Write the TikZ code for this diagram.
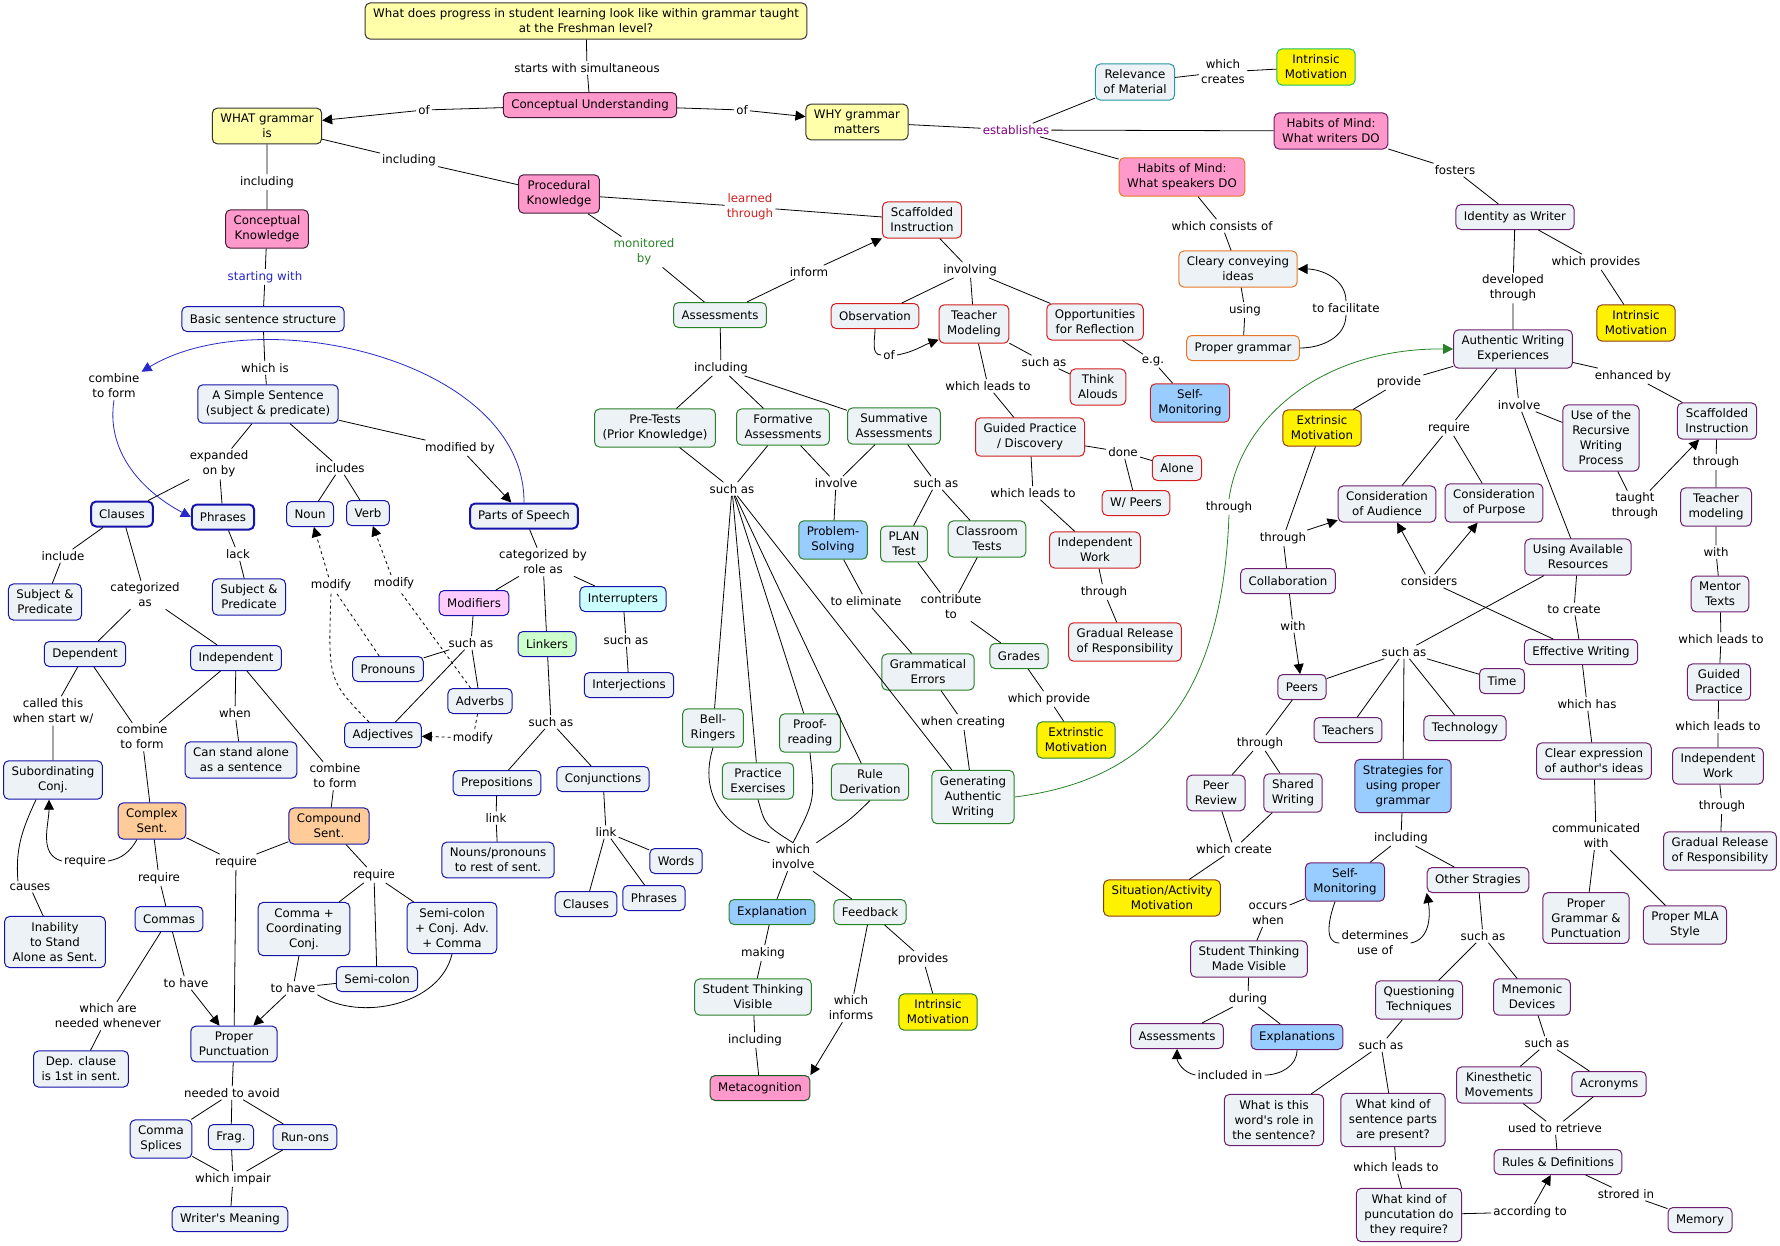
\documentclass[tikz,border=0pt]{standalone}
\usepackage{fontspec}
\setmainfont{DejaVu Sans}
\usepackage{xcolor}
\usepackage{tikz}
\usetikzlibrary{arrows.meta,calc}

\definecolor{boxfill}{RGB}{236,242,245}
\definecolor{paleyel}{RGB}{255,255,170}
\definecolor{pinkfill}{RGB}{255,153,204}
\definecolor{skyfill}{RGB}{153,204,255}
\definecolor{peachfill}{RGB}{255,204,153}
\definecolor{lilacfill}{RGB}{255,204,255}
\definecolor{mintfill}{RGB}{204,255,204}
\definecolor{aquafill}{RGB}{204,255,255}
\definecolor{bluebd}{RGB}{20,20,170}
\definecolor{curveblue}{RGB}{40,40,200}
\definecolor{greenbd}{RGB}{40,130,40}
\definecolor{redbd}{RGB}{210,30,30}
\definecolor{purplebd}{RGB}{110,30,110}
\definecolor{orangebd}{RGB}{230,120,40}
\definecolor{tealbd}{RGB}{40,150,160}
\definecolor{brownbd}{RGB}{140,60,20}
\definecolor{darkbd}{RGB}{70,30,55}
\definecolor{purpletxt}{RGB}{128,0,128}

\tikzset{
  box/.style={draw, rounded corners=5pt, fill=boxfill, align=center,
    inner xsep=8pt, inner ysep=6pt, minimum height=25pt, line width=1pt},
  bluebox/.style={box, draw=bluebd},
  keybox/.style={box, draw=bluebd, line width=2pt},
  greenbox/.style={box, draw=greenbd},
  redbox/.style={box, draw=redbd},
  purplebox/.style={box, draw=purplebd},
  orangebox/.style={box, draw=orangebd},
  qbox/.style={box, fill=paleyel, draw=black!80},
  pinkbox/.style={box, fill=pinkfill, draw=darkbd},
  motbox/.style={box, fill=yellow},
  lbl/.style={inner sep=2pt, align=center},
  link/.style={line width=0.8pt},
  arr/.style={link, -{Triangle[length=10pt,width=10pt]}},
}

\begin{document}
\begin{tikzpicture}[x=1pt, y=-1pt, font=\fontsize{11.8}{15}\selectfont]
\useasboundingbox (0,0) rectangle (1780,1245);

% question and the two branches
\node[qbox] (q) at (586,21) {What does progress in student learning look like within grammar taught\\at the Freshman level?};
\node[lbl] (lStart) at (587,68) {starts with simultaneous};
\node[pinkbox] (cu) at (590,105) {Conceptual Understanding};
\node[qbox] (what) at (267,126) {WHAT grammar\\is};
\node[qbox] (why) at (857,122) {WHY grammar\\matters};
\node[lbl] (lOfA) at (424,110) {of};
\node[lbl] (lOfB) at (742,110) {of};
\node[lbl] (lInclA) at (409,160) {including};
\node[pinkbox] (proc) at (559,194) {Procedural\\Knowledge};
\node[lbl] (lInclB) at (267,182) {including};
\node[pinkbox] (ck) at (267,229) {Conceptual\\Knowledge};
\node[lbl, text=curveblue] (lStartW) at (265,277) {starting with};
\node[bluebox] (bss) at (263,319) {Basic sentence structure};
\node[lbl] (lWhichIs) at (265,368) {which is};
\node[bluebox] (simple) at (268,404) {A Simple Sentence\\(subject \& predicate)};
\node[lbl] (lComb1) at (114,386) {combine\\to form};

% sentence parts
\node[lbl] (lExp) at (219,464) {expanded\\on by};
\node[keybox] (clauses) at (122,514) {Clauses};
\node[keybox] (phrases) at (223,517) {Phrases};
\node[lbl] (lIncl) at (340,468) {includes};
\node[bluebox] (noun) at (310,514) {Noun};
\node[bluebox] (verb) at (368,513) {Verb};
\node[lbl] (lModBy) at (460,448) {modified by};
\node[keybox] (pos) at (524,516) {Parts of Speech};
\node[lbl] (lInclude) at (63,556) {include};
\node[bluebox] (sp1) at (45,602) {Subject \&\\Predicate};
\node[lbl] (lCatAs) at (145,595) {categorized\\as};
\node[lbl] (lLack) at (238,554) {lack};
\node[bluebox] (sp2) at (249,597) {Subject \&\\Predicate};
\node[lbl] (lModA) at (331,585) {modify};
\node[lbl] (lModB) at (394,583) {modify};
\node[lbl] (lRole) at (543,562) {categorized by\\role as};
\node[bluebox, fill=lilacfill] (modif) at (474,603) {Modifiers};
\node[bluebox, fill=aquafill] (interr) at (623,599) {Interrupters};
\node[bluebox, fill=mintfill] (linkers) at (547,644) {Linkers};
\node[bluebox] (dep) at (85,654) {Dependent};
\node[bluebox] (indep) at (236,658) {Independent};
\node[lbl] (lSuchA) at (471,643) {such as};
\node[bluebox] (pron) at (388,669) {Pronouns};
\node[bluebox] (adv) at (480,701) {Adverbs};
\node[bluebox] (adj) at (383,735) {Adjectives};
\node[lbl] (lModC) at (473,738) {modify};
\node[lbl] (lCalled) at (53,711) {called this\\when start w/};
\node[lbl] (lComb2) at (142,737) {combine\\to form};
\node[lbl] (lWhen) at (235,713) {when};
\node[bluebox] (canstand) at (241,760) {Can stand alone\\as a sentence};
\node[lbl] (lComb3) at (335,776) {combine\\to form};
\node[bluebox] (subconj) at (53,780) {Subordinating\\Conj.};
\node[lbl] (lSuchB) at (551,722) {such as};
\node[bluebox] (prep) at (497,783) {Prepositions};
\node[bluebox] (conj) at (603,779) {Conjunctions};
\node[lbl] (lLinkA) at (496,818) {link};
\node[bluebox, fill=peachfill] (complex) at (152,821) {Complex\\Sent.};
\node[bluebox, fill=peachfill] (compound) at (329,826) {Compound\\Sent.};
\node[lbl] (lSuchC) at (626,640) {such as};
\node[bluebox] (interj) at (629,685) {Interjections};

% punctuation
\node[lbl] (lReqA) at (85,861) {require};
\node[lbl] (lCauses) at (30,887) {causes};
\node[lbl] (lReqB) at (159,878) {require};
\node[lbl] (lReqC) at (236,862) {require};
\node[lbl] (lReqD) at (374,875) {require};
\node[bluebox] (inab) at (55,942) {Inability\\to Stand\\Alone as Sent.};
\node[bluebox] (commas) at (169,919) {Commas};
\node[bluebox] (ccc) at (304,929) {Comma +\\Coordinating\\Conj.};
\node[bluebox] (scca) at (452,928) {Semi-colon\\+ Conj. Adv.\\+ Comma};
\node[bluebox] (semi) at (377,979) {Semi-colon};
\node[lbl] (lHaveA) at (186,983) {to have};
\node[lbl] (lHaveB) at (293,988) {to have};
\node[lbl] (lWhichAre) at (108,1016) {which are\\needed whenever};
\node[bluebox] (ppunct) at (234,1044) {Proper\\Punctuation};
\node[bluebox] (depcl) at (81,1069) {Dep. clause\\is 1st in sent.};
\node[lbl] (lAvoid) at (232,1093) {needed to avoid};
\node[bluebox] (splices) at (161,1139) {Comma\\Splices};
\node[bluebox] (frag) at (231,1137) {Frag.};
\node[bluebox] (runons) at (305,1137) {Run-ons};
\node[lbl] (lImpair) at (233,1179) {which impair};
\node[bluebox] (meaning) at (230,1219) {Writer\textquotesingle s Meaning};
\node[bluebox] (nounspro) at (498,860) {Nouns/pronouns\\to rest of sent.};
\node[bluebox] (clauses2) at (586,904) {Clauses};
\node[lbl] (lLinkB) at (606,832) {link};
\node[bluebox] (words) at (676,861) {Words};
\node[bluebox] (phrases2) at (654,898) {Phrases};

% procedural knowledge
\node[lbl, text=redbd] (lLearned) at (750,207) {learned\\through};
\node[redbox] (scaffA) at (922,220) {Scaffolded\\Instruction};
\node[lbl, text=greenbd] (lMonit) at (644,252) {monitored\\by};
\node[lbl] (lInform) at (809,272) {inform};
\node[lbl] (lInvolving) at (970,270) {involving};
\node[greenbox] (assess) at (720,315) {Assessments};
\node[redbox] (observ) at (875,316) {Observation};
\node[redbox] (tmodA) at (974,324) {Teacher\\Modeling};
\node[redbox] (opps) at (1095,322) {Opportunities\\for Reflection};
\node[lbl] (lOfC) at (889,355) {of};
\node[lbl] (lInclC) at (721,368) {including};
\node[lbl] (lSuchD) at (1044,362) {such as};
\node[lbl] (lEg) at (1153,361) {e.g.};
\node[lbl] (lLeadsA) at (988,386) {which leads to};
\node[redbox] (think) at (1098,387) {Think\\Alouds};
\node[redbox, fill=skyfill] (selfmonA) at (1190,403) {Self-\\Monitoring};
\node[greenbox] (pretest) at (655,428) {Pre-Tests\\(Prior Knowledge)};
\node[greenbox] (formative) at (783,427) {Formative\\Assessments};
\node[greenbox] (summative) at (894,426) {Summative\\Assessments};
\node[redbox] (guidedA) at (1030,437) {Guided Practice\\/ Discovery};
\node[lbl] (lDone) at (1123,452) {done};
\node[redbox] (alone) at (1177,468) {Alone};
\node[redbox] (wpeers) at (1136,503) {W/ Peers};
\node[lbl] (lSuchE) at (732,489) {such as};
\node[lbl] (lInvolveA) at (836,483) {involve};
\node[lbl] (lSuchF) at (936,483) {such as};
\node[lbl] (lLeadsB) at (1033,493) {which leads to};
\node[greenbox, fill=skyfill] (problem) at (833,540) {Problem-\\Solving};
\node[greenbox] (plan) at (904,544) {PLAN\\Test};
\node[greenbox] (classroom) at (987,539) {Classroom\\Tests};
\node[redbox] (indworkA) at (1095,550) {Independent\\Work};
\node[lbl] (lElim) at (866,601) {to eliminate};
\node[lbl] (lContrib) at (951,607) {contribute\\to};
\node[lbl] (lThroughA) at (1104,592) {through};
\node[greenbox] (gramerr) at (928,672) {Grammatical\\Errors};
\node[greenbox] (grades) at (1019,656) {Grades};
\node[redbox] (gradualA) at (1125,642) {Gradual Release\\of Responsibility};
\node[lbl] (lWhichProv) at (1049,699) {which provide};
\node[lbl] (lWhenCr) at (963,722) {when creating};
\node[motbox, draw=greenbd] (emB) at (1076,740) {Extrinstic\\Motivation};
\node[greenbox] (bell) at (713,728) {Bell-\\Ringers};
\node[greenbox] (proof) at (810,733) {Proof-\\reading};
\node[greenbox] (practice) at (758,781) {Practice\\Exercises};
\node[greenbox] (rule) at (870,782) {Rule\\Derivation};
\node[greenbox] (genauth) at (973,797) {Generating\\Authentic\\Writing};
\node[lbl] (lWhichInv) at (793,857) {which\\involve};
\node[greenbox, fill=skyfill] (explan) at (772,912) {Explanation};
\node[greenbox] (feedback) at (870,912) {Feedback};
\node[lbl] (lMaking) at (763,953) {making};
\node[lbl] (lProvides) at (923,959) {provides};
\node[greenbox] (stvis) at (753,997) {Student Thinking\\Visible};
\node[lbl] (lInforms) at (851,1008) {which\\informs};
\node[motbox, draw=greenbd] (imC) at (938,1012) {Intrinsic\\Motivation};
\node[lbl] (lInclD) at (755,1040) {including};
\node[pinkbox, draw=greenbd!70!black] (metacog) at (760,1088) {Metacognition};

% why grammar matters
\node[lbl, text=purpletxt] (lEstab) at (1016,130) {establishes};
\node[box, draw=tealbd] (relev) at (1135,82) {Relevance\\of Material};
\node[lbl] (lCreates) at (1223,72) {which\\creates};
\node[motbox, draw=tealbd!60!green] (imA) at (1316,67) {Intrinsic\\Motivation};
\node[pinkbox, draw=purplebd] (habW) at (1331,131) {Habits of Mind:\\What writers DO};
\node[pinkbox, draw=orangebd] (habS) at (1182,177) {Habits of Mind:\\What speakers DO};
\node[lbl] (lFosters) at (1455,170) {fosters};
\node[purplebox] (identity) at (1515,217) {Identity as Writer};
\node[lbl] (lConsists) at (1222,226) {which consists of};
\node[orangebox] (cleary) at (1238,269) {Cleary conveying\\ideas};
\node[lbl] (lUsing) at (1245,310) {using};
\node[lbl] (lFacil) at (1346,308) {to facilitate};
\node[orangebox] (pgram) at (1243,348) {Proper grammar};
\node[lbl] (lDevel) at (1513,288) {developed\\through};
\node[lbl] (lWhichProvs) at (1596,262) {which provides};
\node[motbox, draw=brownbd] (imB) at (1636,323) {Intrinsic\\Motivation};
\node[purplebox] (awe) at (1513,349) {Authentic Writing\\Experiences};
\node[lbl] (lProvide) at (1399,382) {provide};
\node[lbl] (lEnh) at (1633,376) {enhanced by};
\node[lbl] (lInvolveB) at (1519,405) {involve};
\node[motbox, draw=brownbd] (emA) at (1322,428) {Extrinsic\\Motivation};
\node[lbl] (lThroughG) at (1229,507) {through};

% authentic writing
\node[lbl] (lReqE) at (1449,428) {require};
\node[purplebox] (recurs) at (1601,438) {Use of the\\Recursive\\Writing\\Process};
\node[purplebox] (scaffB) at (1717,421) {Scaffolded\\Instruction};
\node[lbl] (lThroughB) at (1716,462) {through};
\node[lbl] (lTaught) at (1635,506) {taught\\through};
\node[purplebox] (coa) at (1387,504) {Consideration\\of Audience};
\node[purplebox] (cop) at (1494,503) {Consideration\\of Purpose};
\node[lbl] (lThroughC) at (1283,538) {through};
\node[purplebox] (tmodB) at (1716,507) {Teacher\\modeling};
\node[purplebox] (uar) at (1578,557) {Using Available\\Resources};
\node[purplebox] (collab) at (1288,581) {Collaboration};
\node[lbl] (lConsid) at (1429,581) {considers};
\node[lbl] (lWithA) at (1716,552) {with};
\node[purplebox] (mentor) at (1720,594) {Mentor\\Texts};
\node[lbl] (lToCreate) at (1574,609) {to create};
\node[lbl] (lWithB) at (1293,626) {with};
\node[lbl] (lSuchG) at (1404,652) {such as};
\node[purplebox] (effw) at (1581,652) {Effective Writing};
\node[lbl] (lLeadsC) at (1721,639) {which leads to};
\node[purplebox] (peers) at (1302,687) {Peers};
\node[purplebox] (time) at (1502,681) {Time};
\node[purplebox] (guidedB) at (1719,682) {Guided\\Practice};
\node[purplebox] (teachers) at (1348,730) {Teachers};
\node[purplebox] (tech) at (1465,728) {Technology};
\node[lbl] (lWhichHas) at (1587,704) {which has};
\node[lbl] (lLeadsD) at (1718,726) {which leads to};
\node[lbl] (lThroughD) at (1260,743) {through};
\node[purplebox, fill=skyfill] (strat) at (1403,786) {Strategies for\\using proper\\grammar};
\node[purplebox] (clearexp) at (1594,761) {Clear expression\\of author\textquotesingle s ideas};
\node[purplebox] (indworkB) at (1718,766) {Independent\\Work};
\node[purplebox] (peerrev) at (1216,793) {Peer\\Review};
\node[purplebox] (shared) at (1293,793) {Shared\\Writing};
\node[lbl] (lThroughE) at (1722,806) {through};
\node[lbl] (lComm) at (1596,836) {communicated\\with};

% strategies
\node[lbl] (lWhichCreate) at (1234,849) {which create};
\node[motbox, draw=brownbd] (situation) at (1162,898) {Situation/Activity\\Motivation};
\node[lbl] (lInclE) at (1401,838) {including};
\node[purplebox] (gradualB) at (1720,851) {Gradual Release\\of Responsibility};
\node[purplebox, fill=skyfill] (selfmonB) at (1345,882) {Self-\\Monitoring};
\node[purplebox] (other) at (1478,880) {Other Stragies};
\node[purplebox] (pgp) at (1586,918) {Proper\\Grammar \&\\Punctuation};
\node[purplebox] (mla) at (1685,925) {Proper MLA\\Style};
\node[lbl] (lOccurs) at (1268,914) {occurs\\when};
\node[lbl] (lDeterm) at (1375,943) {determines\\use of};
\node[lbl] (lSuchH) at (1483,936) {such as};
\node[purplebox] (smv) at (1249,959) {Student Thinking\\Made Visible};
\node[lbl] (lDuring) at (1248,999) {during};
\node[purplebox] (quest) at (1419,1000) {Questioning\\Techniques};
\node[purplebox] (mnem) at (1532,997) {Mnemonic\\Devices};
\node[purplebox] (assessB) at (1177,1036) {Assessments};
\node[purplebox, fill=skyfill] (explans) at (1297,1037) {Explanations};
\node[lbl] (lInclIn) at (1230,1075) {included in};
\node[lbl] (lSuchI) at (1381,1045) {such as};
\node[lbl] (lSuchJ) at (1547,1043) {such as};
\node[purplebox] (role) at (1274,1120) {What is this\\word\textquotesingle s role in\\the sentence?};
\node[purplebox] (kind) at (1393,1120) {What kind of\\sentence parts\\are present?};
\node[purplebox] (kines) at (1499,1085) {Kinesthetic\\Movements};
\node[purplebox] (acro) at (1609,1084) {Acronyms};
\node[lbl] (lRetrieve) at (1555,1128) {used to retrieve};
\node[purplebox] (rules) at (1558,1162) {Rules \& Definitions};
\node[lbl] (lLeadsE) at (1396,1167) {which leads to};
\node[lbl] (lStored) at (1626,1194) {strored in};
\node[purplebox] (punctq) at (1409,1215) {What kind of\\puncutation do\\they require?};
\node[lbl] (lAccord) at (1530,1212) {according to};
\node[purplebox] (memory) at (1700,1220) {Memory};

% links: top
\draw[link] (q) -- (lStart) -- (cu);
\draw[link] (cu) -- (lOfA); \draw[arr] (lOfA) -- (what);
\draw[link] (cu) -- (lOfB); \draw[arr] (lOfB) -- (why);
\draw[link] (what) -- (lInclA) -- (proc);
\draw[link] (what) -- (lInclB) -- (ck) -- (lStartW) -- (bss) -- (lWhichIs) -- (simple);

% links: sentence parts
\draw[link] (simple) -- (lExp);
\foreach \dst in {clauses,phrases} \draw[link] (lExp) -- (\dst);
\draw[link] (simple) -- (lIncl);
\foreach \dst in {noun,verb} \draw[link] (lIncl) -- (\dst);
\draw[link] (simple) -- (lModBy); \draw[arr] (lModBy) -- (pos);
\draw[arr, curveblue] (pos.north) .. controls (525,360) and (260,300) .. (lComb1.north east);
\draw[arr, curveblue] (lComb1.south) .. controls (106,450) and (140,490) .. (phrases.west);
\draw[link] (clauses) -- (lInclude) -- (sp1);
\draw[link] (clauses) -- (lCatAs);
\foreach \dst in {dep,indep} \draw[link] (lCatAs) -- (\dst);
\draw[link] (phrases) -- (lLack) -- (sp2);
\draw[link] (pos) -- (lRole);
\foreach \dst in {modif,linkers,interr} \draw[link] (lRole) -- (\dst);
\draw[link] (modif) -- (lSuchA);
\foreach \dst in {pron,adv,adj} \draw[link] (lSuchA) -- (\dst);
\draw[link, dashed] (pron) -- (lModA);
\draw[link, dashed] ([xshift=-14pt]adj.north) .. controls (328,680) .. (lModA.south);
\draw[arr, dashed] (lModA) -- (noun);
\draw[link, dashed] (adv) -- (lModB); \draw[arr, dashed] (lModB) -- (verb);
\draw[link, dashed] (adv) -- (lModC); \draw[arr, dashed] (lModC) -- (adj);
\draw[link] (linkers) -- (lSuchB);
\foreach \dst in {prep,conj} \draw[link] (lSuchB) -- (\dst);
\draw[link] (interr) -- (lSuchC) -- (interj);
\draw[link] (prep) -- (lLinkA) -- (nounspro);
\draw[link] (conj) -- (lLinkB);
\foreach \dst in {clauses2,phrases2,words} \draw[link] (lLinkB) -- (\dst);
\draw[link] (dep) -- (lCalled) -- (subconj);
\foreach \dst in {dep,indep} \draw[link] (\dst) -- (lComb2);
\draw[link] (lComb2) -- (complex);
\draw[link] (indep) -- (lWhen) -- (canstand);
\draw[link] (indep) -- (lComb3) -- (compound);

% links: punctuation
\draw[link] ([xshift=-15pt]complex.south) to[out=-120,in=10] (lReqA.east);
\draw[arr] (lReqA.west) to[out=165,in=-90] ([xshift=-4pt]subconj.south);
\draw[link] (inab) -- (lCauses);
\draw[link] ([xshift=-12pt]lCauses.north) to[out=95,in=-115] ([xshift=-17pt]subconj.south);
\draw[link] (complex) -- (lReqB) -- (commas);
\foreach \dst in {complex,compound} \draw[link] (\dst) -- (lReqC);
\draw[link] (lReqC) -- (ppunct);
\draw[link] (compound) -- (lReqD);
\foreach \dst in {ccc,semi,scca} \draw[link] (lReqD) -- (\dst);
\draw[link] (commas) -- (lHaveA); \draw[arr] (lHaveA) -- (ppunct);
\draw[link] (commas) -- (lWhichAre) -- (depcl);
\foreach \dst in {ccc,semi} \draw[link] (\dst) -- (lHaveB);
\draw[link] (scca.south) .. controls (440,1005) and (360,1022) .. (lHaveB.south east);
\draw[arr] (lHaveB) -- (ppunct);
\draw[link] (ppunct) -- (lAvoid);
\foreach \dst in {splices,frag,runons} \draw[link] (lAvoid) -- (\dst);
\foreach \dst in {splices,frag,runons} \draw[link] (\dst) -- (lImpair);
\draw[link] (lImpair) -- (meaning);

% links: procedural knowledge
\draw[link] (proc) -- (lLearned) -- (scaffA);
\draw[link] (proc) -- (lMonit) -- (assess);
\draw[link] (assess) -- (lInform); \draw[arr] (lInform) -- (scaffA);
\draw[link] (scaffA) -- (lInvolving);
\foreach \dst in {observ,tmodA,opps} \draw[link] (lInvolving) -- (\dst);
\draw[link] (observ.south) to[out=-90,in=180] (lOfC.west);
\draw[arr] (lOfC.east) to[out=10,in=200] ([yshift=4pt]tmodA.south west);
\draw[link] (tmodA) -- (lSuchD) -- (think);
\draw[link] (tmodA) -- (lLeadsA) -- (guidedA);
\draw[link] (opps) -- (lEg) -- (selfmonA);
\draw[link] (guidedA) -- (lDone);
\foreach \dst in {alone,wpeers} \draw[link] (lDone) -- (\dst);
\draw[link] (guidedA) -- (lLeadsB) -- (indworkA) -- (lThroughA) -- (gradualA);
\draw[link] (assess) -- (lInclC);
\foreach \dst in {pretest,formative,summative} \draw[link] (lInclC) -- (\dst);
\foreach \dst in {pretest,formative} \draw[link] (\dst) -- (lSuchE);
\foreach \dst in {bell,practice,proof,rule,genauth} \draw[link] (lSuchE) -- (\dst);
\foreach \dst in {formative,summative} \draw[link] (\dst) -- (lInvolveA);
\draw[link] (lInvolveA) -- (problem) -- (lElim) -- (gramerr) -- (lWhenCr) -- (genauth);
\draw[link] (summative) -- (lSuchF);
\foreach \dst in {plan,classroom} \draw[link] (lSuchF) -- (\dst);
\foreach \dst in {plan,classroom} \draw[link] (\dst) -- (lContrib);
\draw[link] (lContrib) -- (grades) -- (lWhichProv) -- (emB);
\draw[link] (bell.south) .. controls (695,805) and (740,835) .. (lWhichInv.north west);
\draw[link] (practice.south) .. controls (765,825) .. (lWhichInv.north);
\draw[link] (proof.south) .. controls (815,800) .. (lWhichInv.north);
\draw[link] (rule.south) .. controls (850,820) .. (lWhichInv.north east);
\foreach \dst in {explan,feedback} \draw[link] (lWhichInv) -- (\dst);
\draw[link] (explan) -- (lMaking) -- (stvis) -- (lInclD) -- (metacog);
\draw[link] (feedback) -- (lInforms); \draw[arr] (lInforms) -- (metacog.north east);
\draw[link] (feedback) -- (lProvides) -- (imC);
\draw[link, greenbd] (genauth.east) .. controls (1150,780) and (1222,700) .. (lThroughG.south);
\draw[arr, greenbd] (lThroughG.north) .. controls (1240,420) and (1320,348) .. (awe.west);

% links: why grammar matters
\draw[link] (why) -- (lEstab);
\foreach \dst in {relev,habW,habS} \draw[link] (lEstab) -- (\dst);
\draw[link] (relev) -- (lCreates) -- (imA);
\draw[link] (habW) -- (lFosters) -- (identity);
\draw[link] (habS) -- (lConsists) -- (cleary) -- (lUsing) -- (pgram);
\draw[link] (pgram.east) to[out=0,in=-90] (lFacil.south);
\draw[arr] (lFacil.north) to[out=90,in=0] (cleary.east);
\draw[link] (identity) -- (lDevel) -- (awe);
\draw[link] (identity) -- (lWhichProvs) -- (imB);
\draw[link] (awe) -- (lProvide) -- (emA);
\draw[link] (awe) -- (lEnh) -- (scaffB);
\draw[link] (awe) -- (lReqE);
\foreach \dst in {coa,cop} \draw[link] (lReqE) -- (\dst);
\draw[link] (awe) -- (lInvolveB);
\foreach \dst in {recurs,uar} \draw[link] (lInvolveB) -- (\dst);
\draw[link] (recurs) -- (lTaught); \draw[arr] (lTaught) -- (scaffB);
\draw[link] (scaffB) -- (lThroughB) -- (tmodB) -- (lWithA) -- (mentor) -- (lLeadsC) -- (guidedB)
  -- (lLeadsD) -- (indworkB) -- (lThroughE) -- (gradualB);
\draw[link] (emA) -- (lThroughC) -- (collab);
\draw[arr] (lThroughC) -- (coa);
\draw[link] (collab) -- (lWithB); \draw[arr] (lWithB) -- (peers);
\draw[link] (effw) -- (lConsid);
\foreach \dst in {coa,cop} \draw[arr] (lConsid) -- (\dst);
\draw[link] (uar) -- (lToCreate) -- (effw);
\draw[link] (uar) -- (lSuchG);
\foreach \dst in {peers,teachers,strat,tech,time} \draw[link] (lSuchG) -- (\dst);
\draw[link] (effw) -- (lWhichHas) -- (clearexp) -- (lComm);
\foreach \dst in {pgp,mla} \draw[link] (lComm) -- (\dst);
\draw[link] (peers) -- (lThroughD);
\foreach \dst in {peerrev,shared} \draw[link] (lThroughD) -- (\dst);
\foreach \dst in {peerrev,shared} \draw[link] (\dst) -- (lWhichCreate);
\draw[link] (lWhichCreate) -- (situation);

% links: strategies
\draw[link] (strat) -- (lInclE);
\foreach \dst in {selfmonB,other} \draw[link] (lInclE) -- (\dst);
\draw[link] (selfmonB) -- (lOccurs) -- (smv) -- (lDuring);
\foreach \dst in {assessB,explans} \draw[link] (lDuring) -- (\dst);
\draw[link] (explans.south) to[out=-90,in=0] (lInclIn.east);
\draw[arr] (lInclIn.west) to[out=170,in=-90] (assessB.south);
\draw[link] ([xshift=-10pt]selfmonB.south) to[out=-110,in=180] (lDeterm.west);
\draw[arr] (lDeterm.east) to[out=10,in=-80] (other.south west);
\draw[link] (other) -- (lSuchH);
\foreach \dst in {quest,mnem} \draw[link] (lSuchH) -- (\dst);
\draw[link] (quest) -- (lSuchI);
\foreach \dst in {role,kind} \draw[link] (lSuchI) -- (\dst);
\draw[link] (kind) -- (lLeadsE) -- (punctq) -- (lAccord);
\draw[arr] (lAccord) -- (rules);
\draw[link] (mnem) -- (lSuchJ);
\foreach \dst in {kines,acro} \draw[link] (lSuchJ) -- (\dst);
\foreach \dst in {kines,acro} \draw[link] (\dst) -- (lRetrieve);
\draw[link] (lRetrieve) -- (rules) -- (lStored) -- (memory);
\end{tikzpicture}
\end{document}
